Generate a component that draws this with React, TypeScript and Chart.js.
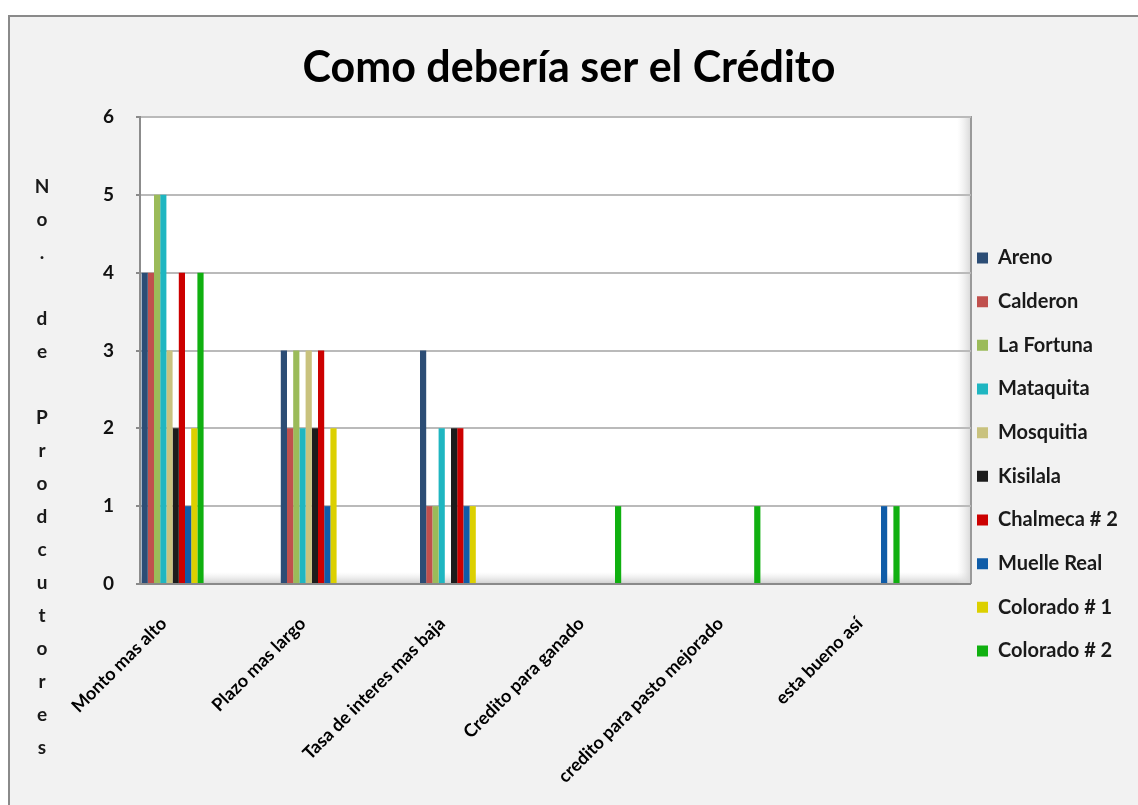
import React, { useEffect, useRef } from 'react';
import { Chart, registerables } from 'chart.js';

Chart.register(...registerables);

// ---- data ----
const categories = [
  'Monto mas alto',
  'Plazo mas largo',
  'Tasa de interes mas baja',
  'Credito para ganado',
  'credito para pasto mejorado',
  'esta bueno así',
];
const seriesNames = [
  'Areno',
  'Calderon',
  'La Fortuna',
  'Mataquita',
  'Mosquitia',
  'Kisilala',
  'Chalmeca # 2',
  'Muelle Real',
  'Colorado # 1',
  'Colorado # 2',
];
const areno = [4, 3, 3, 0, 0, 0];
const calderon = [4, 2, 1, 0, 0, 0];
const laFortuna = [5, 3, 1, 0, 0, 0];
const mataquita = [5, 2, 2, 0, 0, 0];
const mosquitia = [3, 3, 0, 0, 0, 0];
const kisilala = [2, 2, 2, 0, 0, 0];
const chalmeca2 = [4, 3, 2, 0, 0, 0];
const muelleReal = [1, 1, 1, 0, 0, 1];
const colorado1 = [2, 2, 1, 0, 0, 0];
const colorado2 = [4, 0, 0, 1, 1, 1];
const seriesValues = [areno, calderon, laFortuna, mataquita, mosquitia, kisilala, chalmeca2, muelleReal, colorado1, colorado2];
const seriesColors = ['#2c4d75', '#c0504d', '#9bbb59', '#1fb6c1', '#c9c27e', '#1c1c1c', '#cc0000', '#0f5ca8', '#dcd000', '#10b010'];
const yTickValues = [0, 1, 2, 3, 4, 5, 6];
const chartTitle = 'Como debería ser el Crédito';
const yAxisTitle = 'No. de Prodcutores';

// ---- layout / style ----
const W = 1128;
const H = 788;
const FONT = 'Lato, "Open Sans", sans-serif';
const PLOT_LEFT = 130;
const PLOT_RIGHT = 961;
const PLOT_TOP = 100;
const PLOT_BOTTOM = 567;
const TITLE_SIZE = 43;
const LEGEND_FONT = 20;
const LEGEND_BOX = 11;
const LEGEND_PAD = 6;
const LEGEND_STEP = 43.67;

const plotBackground = {
  id: 'plotBackground',
  beforeDraw(chart: any) {
    const { ctx, chartArea: a } = chart;
    ctx.save();
    ctx.fillStyle = '#ffffff';
    ctx.fillRect(a.left, a.top, a.right - a.left, a.bottom - a.top);
    const g = ctx.createLinearGradient(0, a.bottom - 12, 0, a.bottom);
    g.addColorStop(0, 'rgba(230,230,230,0)');
    g.addColorStop(1, 'rgba(205,205,205,1)');
    ctx.fillStyle = g;
    ctx.fillRect(a.left, a.bottom - 12, a.right - a.left, 12);
    const gr = ctx.createLinearGradient(a.right - 14, 0, a.right, 0);
    gr.addColorStop(0, 'rgba(235,235,235,0)');
    gr.addColorStop(1, 'rgba(215,215,215,1)');
    ctx.fillStyle = gr;
    ctx.fillRect(a.right - 14, a.top, 14, a.bottom - a.top);
    ctx.strokeStyle = '#9a9a9a';
    ctx.lineWidth = 2;
    ctx.beginPath();
    ctx.moveTo(a.left, a.top);
    ctx.lineTo(a.right, a.top);
    ctx.lineTo(a.right, a.bottom);
    ctx.stroke();
    ctx.restore();
  },
};

const stackedYTitle = {
  id: 'stackedYTitle',
  afterDraw(chart: any) {
    const { ctx } = chart;
    ctx.save();
    ctx.font = `bold 19px ${FONT}`;
    ctx.fillStyle = '#1a1a1a';
    ctx.textAlign = 'center';
    ctx.textBaseline = 'middle';
    Array.from(yAxisTitle).forEach((ch, i) => {
      if (ch !== ' ') ctx.fillText(ch, 32, 170 + i * 33);
    });
    ctx.restore();
  },
};

export default function App() {
  const ref = useRef<HTMLCanvasElement>(null);

  useEffect(() => {
    const canvas = ref.current;
    if (!canvas) return;
    const mctx = document.createElement('canvas').getContext('2d')!;
    mctx.font = `bold ${LEGEND_FONT}px ${FONT}`;
    const maxText = Math.max(...seriesNames.map((n) => mctx.measureText(n).width));
    const legendWidth = LEGEND_PAD + LEGEND_BOX + LEGEND_FONT / 2 + maxText + 10;
    const padRight = Math.max(0, W - PLOT_RIGHT - legendWidth);

    const slotPx = 139.2;
    const xMin = -(162.6 - PLOT_LEFT) / slotPx;
    const xMax = xMin + (PLOT_RIGHT - PLOT_LEFT) / slotPx;
    const titleLine = TITLE_SIZE * 1.2;
    const titleTop = 51 - titleLine / 2;

    const chart = new Chart(canvas, {
      type: 'bar',
      data: {
        datasets: seriesNames.map((name, s) => ({
          label: name,
          data: seriesValues[s].map((v, i) => ({ x: i, y: v })),
          backgroundColor: seriesColors[s],
          borderWidth: 0,
          categoryPercentage: 62 / slotPx,
          barPercentage: 1,
        })),
      },
      options: {
        animation: false,
        responsive: false,
        events: [],
        layout: { padding: { left: 0, top: 0, bottom: 0, right: padRight } },
        plugins: {
          title: {
            display: true,
            text: chartTitle,
            color: '#000',
            font: { family: FONT, size: TITLE_SIZE, weight: 'bold', lineHeight: 1.2 },
            padding: { top: titleTop, bottom: PLOT_TOP - titleTop - titleLine },
          },
          legend: {
            display: true,
            position: 'right',
            align: 'start',
            title: { display: true, text: '', font: { size: 10, lineHeight: 1.2 }, padding: { top: 241 - LEGEND_FONT / 2 - LEGEND_PAD - 12, bottom: 0 } },
            labels: {
              color: '#1a1a1a',
              font: { family: FONT, size: LEGEND_FONT, weight: 'bold', lineHeight: (LEGEND_STEP - LEGEND_PAD) / LEGEND_FONT },
              boxWidth: LEGEND_BOX,
              boxHeight: LEGEND_BOX,
              padding: LEGEND_PAD,
              generateLabels: (c: any) =>
                (Chart.defaults.plugins.legend.labels as any).generateLabels(c).map((l: any) => ({ ...l, text: [l.text] })),
            },
          },
          tooltip: { enabled: false },
        },
        scales: {
          x: {
            type: 'linear',
            offset: false,
            min: xMin,
            max: xMax,
            grid: { display: false, offset: false },
            border: { display: false },
            afterBuildTicks: (scale: any) => {
              scale.ticks = categories.map((_, i) => ({ value: i }));
            },
            afterFit: (scale: any) => {
              scale.height = H - PLOT_BOTTOM;
            },
            ticks: {
              autoSkip: false,
              minRotation: 45,
              maxRotation: 45,
              padding: 21,
              labelOffset: -9,
              color: '#000',
              font: { family: FONT, size: 18, weight: 'bold' },
              callback: (v: any) => categories[v] ?? '',
            },
          },
          y: {
            min: 0,
            max: 6,
            afterBuildTicks: (scale: any) => {
              scale.ticks = yTickValues.map((v) => ({ value: v }));
            },
            afterFit: (scale: any) => {
              scale.width = PLOT_LEFT;
            },
            grid: {
              color: (c: any) => (c.tick && c.tick.value === 0 ? '#8a8a8a' : '#bababa'),
              lineWidth: 2,
              drawTicks: true,
              tickLength: 4,
              tickColor: '#8a8a8a',
            },
            border: { display: true, color: '#8c8c8c', width: 2 },
            ticks: {
              padding: 22,
              color: '#111',
              font: { family: FONT, size: 19, weight: 'bold' },
            },
          },
        },
      } as any,
      plugins: [plotBackground, stackedYTitle],
    });
    return () => chart.destroy();
  }, []);

  return (
    <div
      style={{
        position: 'fixed',
        left: 8,
        top: 15,
        width: 1130,
        height: 790,
        boxSizing: 'border-box',
        borderLeft: '2px solid #8a8a8a',
        borderTop: '2px solid #8a8a8a',
        background: '#f2f2f2',
      }}
    >
      <canvas ref={ref} width={W} height={H} style={{ display: 'block', width: W, height: H }} />
    </div>
  );
}
